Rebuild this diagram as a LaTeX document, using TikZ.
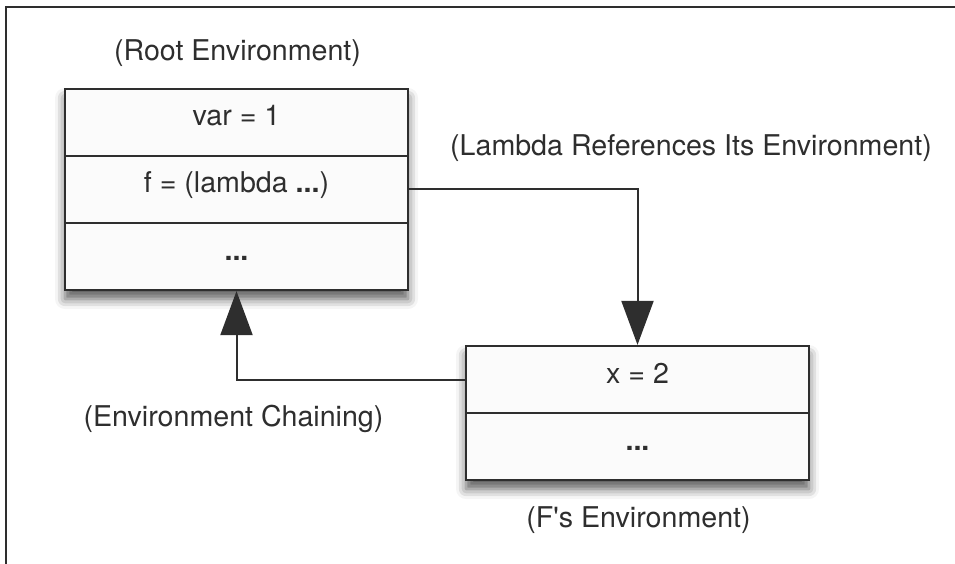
\documentclass[tikz,border=0pt]{standalone}
\usepackage{fontspec}
\setmainfont{TeX Gyre Heros}
\usepackage{tikz}
\usetikzlibrary{arrows.meta, positioning, shadows.blur}
\definecolor{ink}{HTML}{2E2E2E}
\definecolor{cellfill}{HTML}{FBFBFB}
\tikzstyle{envbox} = [rectangle, minimum width=343pt, inner sep=0pt, draw=ink, line width=2.2pt, fill=cellfill, blur shadow={shadow xshift=0pt, shadow yshift=-9pt, shadow blur radius=10pt, shadow opacity=65}]
\tikzstyle{cell} = [rectangle, minimum width=343pt, minimum height=67pt, inner sep=0pt, draw=ink, line width=2.2pt, fill=cellfill, text=ink, text height=0.7em, text depth=0pt]
\tikzstyle{caption} = [anchor=base, text=ink, inner sep=0pt]
\tikzstyle{arrow} = [draw=ink, line width=2pt, -{Triangle[length=44pt, width=32pt]}]
\tikzstyle{frame} = [draw=ink, line width=2pt]

\begin{document}
\begin{tikzpicture}[x=1pt, y=-1pt, node distance=67pt, font=\fontsize{28.6}{34}\selectfont]
\useasboundingbox (0,0) rectangle (955,564);
\draw [frame] (955,7.5) -- (6,7.5) -- (6,564);
\node (root) [envbox, minimum height=201pt] at (236.5,189.5) {};
\node (lambda) [cell] at (236.5,189.5) {f = (lambda \textbf{...})};
\node (var) [cell, above of = lambda] {var = 1};
\node (rootrest) [cell, below of = lambda] {\textbf{...}};
\node (fenv) [envbox, minimum height=134pt] at (637.5,413) {};
\node (x) [cell] at (637.5,379.5) {x = 2};
\node (frest) [cell, below of = x] {\textbf{...}};
\node (rootname) [caption] at (237.5,61) {(Root Environment)};
\node (fname) [caption] at (638.5,527) {(F\textquotesingle s Environment)};
\node (refname) [caption] at (691,156) {(Lambda References Its Environment)};
\node (chainname) [caption] at (233.5,426.5) {(Environment Chaining)};
\draw [arrow] (lambda.east) -| (x.north);
\draw [arrow] (x.west) -| (root.south);
\end{tikzpicture}
\end{document}
